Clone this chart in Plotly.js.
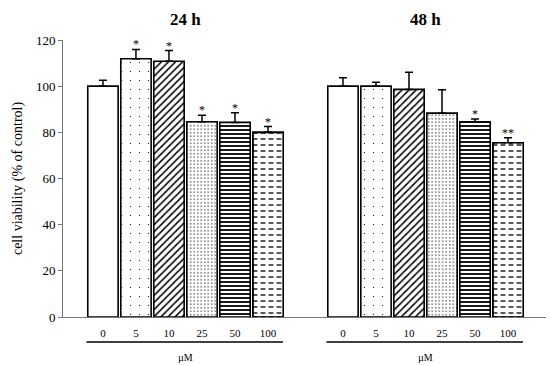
<!DOCTYPE html>
<html>
<head>
<meta charset="utf-8">
<script src="https://cdn.plot.ly/plotly-3.0.1.min.js"></script>
<style>
  html, body { margin: 0; padding: 0; background: #fff; }
  #chart { width: 550px; height: 366px; }
</style>
</head>
<body>
<div id="chart"></div>
<script>
// doses (µM) and viability
const doses = ["0", "5", "10", "25", "50", "100"];
const viability24 = [100, 111.9, 110.8, 84.6, 84.3, 80.0];
const err24 = [2.6, 4.0, 4.6, 2.8, 4.2, 2.5];
const sig24 = ["", "*", "*", "*", "*", "*"];
const viability48 = [100, 100, 98.6, 88.3, 84.6, 75.5];
const err48 = [3.7, 1.7, 7.4, 10.1, 1.2, 2.2];
const sig48 = ["", "", "", "", "*", "**"];
const groups = ["24 h", "48 h"];

// fill pattern per dose
const patShape = ["", ".", "/", ".", "-", "-"];
const patSize = [8, 9, 5, 3.5, 4, 6];
const patSolid = [0.3, 0.015, 0.3, 0.12, 0.45, 0.22];

const offset48 = 7.27;
const pos24 = doses.map((d, i) => i);
const pos48 = doses.map((d, i) => i + offset48);
const last = doses.length - 1;

function barTrace(xs, ys, errs) {
    return {
        type: 'bar',
        x: xs,
        y: ys,
        width: 0.92,
        marker: {
            color: '#ffffff',
            line: {color: '#000000', width: 1.6},
            pattern: {
                shape: patShape,
                size: patSize,
                solidity: patSolid,
                fgcolor: '#000000',
                bgcolor: '#ffffff',
                fillmode: 'replace'
            }
        },
        error_y: {
            type: 'data',
            symmetric: false,
            array: errs,
            arrayminus: errs.map(() => 0),
            color: '#000000',
            thickness: 1.5,
            width: 4
        },
        hoverinfo: 'none',
        showlegend: false
    };
}

// white vertical stripes over the 100 µM bars cut the lines into dashes
const dashCut = {
    type: 'bar',
    x: [pos24[last], pos48[last]],
    y: [viability24[last], viability48[last]],
    width: 0.92,
    marker: {
        color: 'rgba(0,0,0,0)',
        line: {color: '#000000', width: 1.6},
        pattern: {shape: '|', size: 8, solidity: 0.4, fgcolor: '#ffffff', bgcolor: 'rgba(0,0,0,0)'}
    },
    hoverinfo: 'none',
    showlegend: false
};

const data = [
    barTrace(pos24, viability24, err24),
    barTrace(pos48, viability48, err48),
    dashCut
];

const serif = "'Liberation Serif', 'DejaVu Serif', serif";
const annotations = [];
doses.forEach((d, i) => {
    if (sig24[i]) annotations.push({x: pos24[i], y: viability24[i] + err24[i], text: sig24[i],
        xref: 'x', yref: 'y', yanchor: 'bottom', showarrow: false, yshift: -4,
        font: {family: serif, size: 12, color: 'black'}});
    if (sig48[i]) annotations.push({x: pos48[i], y: viability48[i] + err48[i], text: sig48[i],
        xref: 'x', yref: 'y', yanchor: 'bottom', showarrow: false, yshift: -4,
        font: {family: serif, size: 12, color: 'black'}});
});
const centers = [(pos24[0] + pos24[last]) / 2, (pos48[0] + pos48[last]) / 2];
groups.forEach((g, k) => {
    annotations.push({x: centers[k], y: 1, xref: 'x', yref: 'paper', yanchor: 'bottom', yshift: 9,
        text: '<b>' + g + '</b>', showarrow: false, font: {family: serif, size: 17, color: 'black'}});
    annotations.push({x: centers[k], y: 0, xref: 'x', yref: 'paper', yanchor: 'middle', yshift: -40,
        text: 'µM', showarrow: false, font: {family: serif, size: 10, color: 'black'}});
});

const shapes = [
    {type: 'line', xref: 'x', yref: 'paper', x0: pos24[0] - 0.5, x1: pos24[last] + 0.45, y0: -0.09, y1: -0.09,
        line: {color: '#000', width: 1.6}},
    {type: 'line', xref: 'x', yref: 'paper', x0: pos48[0] - 0.5, x1: pos48[last] + 0.45, y0: -0.09, y1: -0.09,
        line: {color: '#000', width: 1.6}}
];

const layout = {
    width: 550,
    height: 366,
    margin: {l: 63, r: 4, t: 40, b: 49},
    paper_bgcolor: '#ffffff',
    plot_bgcolor: '#ffffff',
    barmode: 'overlay',
    bargap: 0,
    font: {family: serif, color: '#000'},
    xaxis: {
        range: [-1.21, 13.42],
        tickvals: pos24.concat(pos48),
        ticktext: doses.concat(doses),
        ticks: '',
        showgrid: false,
        zeroline: false,
        showline: true,
        linecolor: '#777',
        linewidth: 1,
        ticklabelstandoff: 6,
        tickfont: {family: serif, size: 11, color: '#000'}
    },
    yaxis: {
        range: [0, 120],
        dtick: 20,
        ticks: 'outside',
        ticklen: 4,
        tickcolor: '#777',
        showgrid: false,
        zeroline: false,
        showline: true,
        linecolor: '#777',
        linewidth: 1,
        tickfont: {family: serif, size: 13, color: '#000'},
        title: {text: 'cell viability (% of control)', standoff: 10,
            font: {family: serif, size: 14, color: '#000'}}
    },
    annotations: annotations,
    shapes: shapes
};

Plotly.newPlot('chart', data, layout, {displayModeBar: false, staticPlot: true});
</script>
</body>
</html>
